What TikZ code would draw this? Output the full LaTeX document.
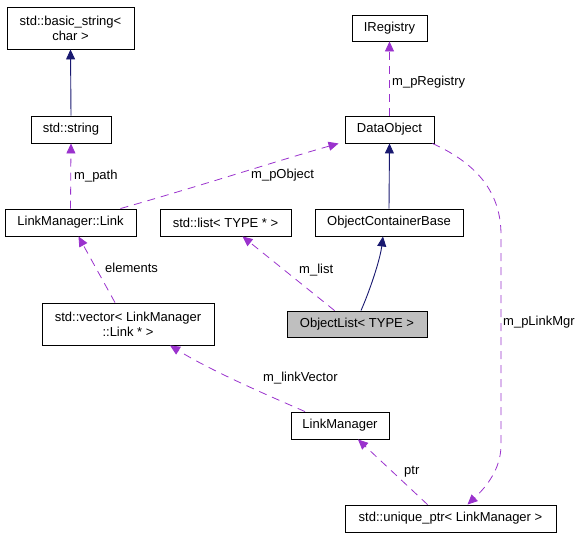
\documentclass[tikz,border=0pt]{standalone}
\usepackage{fontspec}
\setmainfont{Liberation Sans}
\usepackage{xcolor}
\usepackage{tikz}
\usetikzlibrary{calc,arrows.meta}
\definecolor{inh}{HTML}{191970}
\definecolor{use}{HTML}{9A32CD}
\definecolor{cur}{HTML}{BFBFBF}
\tikzset{
  cls/.style={draw=black, line width=0.9pt, inner sep=0pt, align=center, font=\fontsize{13}{15}\selectfont},
  inherit/.style={draw=inh, line width=0.9pt, -{Triangle[length=10pt,width=9pt]}},
  usage/.style={draw=use, line width=0.8pt, dash pattern=on 8pt off 6pt, -{Triangle[length=10pt,width=9pt]}},
  lab/.style={anchor=west, inner sep=0pt, text=black, font=\fontsize{13}{15}\selectfont},
}

\begin{document}
\begin{tikzpicture}[x=1pt,y=-1pt]
  \useasboundingbox (0,0) rectangle (585,539);
  % classes
  \node[cls, minimum width=127pt, minimum height=42pt] (bstr) at (70.5,28) {std::basic\_string<\\char >};
  \node[cls, minimum width=80pt, minimum height=27pt] (str) at (71,129.5) {std::string};
  \node[cls, minimum width=75pt, minimum height=26pt] (ireg) at (389.5,28) {IRegistry};
  \node[cls, minimum width=89pt, minimum height=27pt] (dobj) at (389.5,129.5) {DataObject};
  \node[cls, minimum width=148pt, minimum height=27pt] (ocb) at (389,222.5) {ObjectContainerBase};
  \node[cls, minimum width=131pt, minimum height=27pt] (lnk) at (70.5,222.5) {LinkManager::Link};
  \node[cls, minimum width=131pt, minimum height=27pt] (lst) at (225.5,222.5) {std::list< TYPE * >};
  \node[cls, minimum width=172pt, minimum height=42pt] (vec) at (128,324) {std::vector< LinkManager\\::Link * >};
  \node[cls, fill=cur, minimum width=140pt, minimum height=26pt] (olist) at (357,324) {ObjectList< TYPE >};
  \node[cls, minimum width=98pt, minimum height=27pt] (lmgr) at (340,425.5) {LinkManager};
  \node[cls, minimum width=211pt, minimum height=27pt] (uptr) at (450.5,518.5) {std::unique\_ptr< LinkManager >};

  % inheritance
  \draw[inherit] (str.north) -- (bstr.south);
  \draw[inherit] (ocb.north) -- (dobj.south);
  \draw[inherit] ($(olist.north)+(4,0)$) .. controls (370,290) and (380,260) .. ($(ocb.south)+(-6,0)$);

  % members
  \draw[usage] (lnk.north) -- (str.south);
  \node[lab] (lpath) at (74,176) {m\_path};
  \draw[usage] ($(lnk.north east)+(-16,0)$) .. controls (200,186) and (280,160) .. ($(dobj.south west)+(-6,0)$);
  \node[lab] (lpobj) at (251,175) {m\_pObject};
  \draw[usage] (dobj.north) -- (ireg.south);
  \node[lab] (lpreg) at (392,82) {m\_pRegistry};
  \draw[usage] ($(olist.north west)+(48,0)$) -- ($(lst.south)+(17,0)$);
  \node[lab] (llist) at (299,270) {m\_list};
  \draw[usage] ($(vec.north)+(-13,0)$) -- ($(lnk.south)+(8,0)$);
  \node[lab] (lelem) at (105,268) {elements};
  \draw[usage] ($(lmgr.north)+(-35,0)$) .. controls (260,392) and (210,370) .. ($(vec.south)+(42,0)$);
  \node[lab] (lvec) at (263,378) {m\_linkVector};
  \draw[usage] ($(uptr.north)+(-23,0)$) -- ($(lmgr.south)+(18,0)$);
  \node[lab] (lptr) at (404,472) {ptr};
  \draw[usage] ($(dobj.south east)+(-2,0)$) .. controls (480,165) and (501,195) .. (501,235)
    -- (501,445) .. controls (501,470) and (485,488) .. ($(uptr.north)+(17,0)$);
  \node[lab] (lmgrp) at (503,322) {m\_pLinkMgr};
\end{tikzpicture}
\end{document}
